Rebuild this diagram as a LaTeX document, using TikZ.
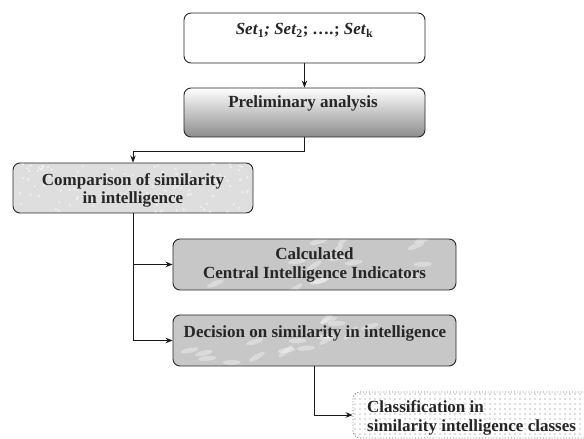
\documentclass[tikz,border=0pt]{standalone}
\usepackage{fontspec}
\setmainfont{Liberation Serif}
\usetikzlibrary{arrows.meta,patterns.meta,shadings}
\begin{document}
\begin{tikzpicture}[x=1pt,y=1pt,
  box/.style={draw=black!85, line width=0.9pt, rounded corners=7pt, inner sep=0pt},
  txt/.style={inner sep=0pt, font=\fontsize{17}{18.8}\selectfont\bfseries, text=black!85},
  conn/.style={line width=0.9pt, draw=black!90},
  arr/.style={conn, -{Stealth[length=7pt,width=5.5pt]}},
  blotch/.style={fill=white, opacity=0.35}
]
\useasboundingbox (0,0) rectangle (584,439);
\clip (0,0) rectangle (584,439);
% boxes
\node[box, fill=white, minimum width=241pt, minimum height=50pt] (b1) at (304.5,401) {};
\node[box, top color=white, bottom color=black!45, minimum width=241pt, minimum height=49pt] (b2) at (304.5,326.5) {};
\node[box, fill=black!13, minimum width=240pt, minimum height=50pt] (b3) at (133,251) {};
\node[box, fill=black!22, minimum width=283pt, minimum height=51pt] (b4) at (314.5,174.5) {};
\node[box, fill=black!22, minimum width=283pt, minimum height=51pt] (b5) at (314.5,98.5) {};
\node[box, draw=black!60, dotted, pattern={Dots[distance=5pt,radius=0.55pt]}, pattern color=black!55, minimum width=250pt, minimum height=46pt] (b6) at (478,24) {};
% texture
\pgfmathsetseed{7}
\foreach \bx in {b4,b5}{
  \begin{scope}
    \clip[rounded corners=7pt] ([shift={(1pt,1pt)}]\bx.south west) rectangle ([shift={(-1pt,-1pt)}]\bx.north east);
    \foreach \i in {1,...,28}{
      \pgfmathsetmacro{\rx}{rand*135}
      \pgfmathsetmacro{\ry}{rand*24}
      \pgfmathsetmacro{\rr}{rnd*50}
      \fill[blotch, rotate around={\rr:([shift={(\rx pt,\ry pt)}]\bx.center)}] ([shift={(\rx pt,\ry pt)}]\bx.center) ellipse (9pt and 2.5pt);
    }
  \end{scope}
}
\begin{scope}
  \clip[rounded corners=7pt] ([shift={(1pt,1pt)}]b3.south west) rectangle ([shift={(-1pt,-1pt)}]b3.north east);
  \foreach \i in {1,...,120}{
    \pgfmathsetmacro{\rx}{rand*118}
    \pgfmathsetmacro{\ry}{rand*24}
    \fill[white, opacity=0.5] ([shift={(\rx pt,\ry pt)}]b3.center) circle (1.3pt);
  }
\end{scope}
% texts
\node[txt, anchor=base] (t1) at (304.5,404) {\textit{Set}\textsubscript{1}\textit{;} \textit{Set}\textsubscript{2}; \textit{….}; \textit{Set}\textsubscript{k}};
\node[txt, anchor=base] (t2) at (303,331) {Preliminary analysis};
\node[txt, anchor=north, align=center] (t3) at (133,266) {Comparison of similarity\\in intelligence};
\node[txt, anchor=north, align=center] (t4) at (314.5,191) {Calculated\\Central Intelligence Indicators};
\node[txt, anchor=base] (t5) at (315,101) {Decision on similarity in intelligence};
\node[txt, anchor=north west, align=left] (t6) at (367,38.5) {Classification in\\similarity intelligence classes};
% connectors
\draw[arr] (b1.south) -- (b2.north);
\draw[arr] (b2.south) -- ++(0,-14) -| (b3.north);
\draw[arr] (b3.south) |- (b4.west);
\draw[arr] (b3.south) |- (b5.west);
\draw[arr] (b5.south) |- (b6.west);
\end{tikzpicture}
\end{document}
